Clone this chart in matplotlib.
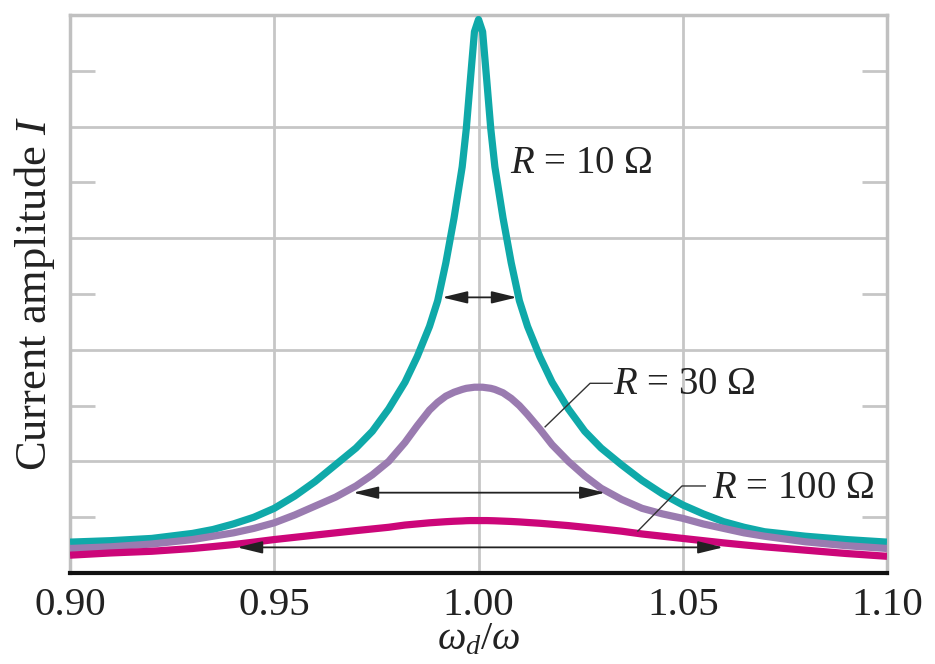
import matplotlib
matplotlib.use("Agg")
import matplotlib.pyplot as plt
from matplotlib.ticker import MultipleLocator

plt.rcParams['font.family'] = ['Liberation Serif', 'DejaVu Serif']
plt.rcParams['mathtext.fontset'] = 'custom'
plt.rcParams['mathtext.rm'] = 'Liberation Serif'
plt.rcParams['mathtext.it'] = 'Liberation Serif:italic'

# values
w_ratio = [0.900, 0.910, 0.920, 0.930, 0.935, 0.940, 0.945, 0.950, 0.955, 0.960,
           0.965, 0.970, 0.974, 0.978, 0.982, 0.985, 0.988, 0.990, 0.992, 0.994,
           0.996, 0.997, 0.998, 0.999, 1.000, 1.001, 1.002, 1.003, 1.004, 1.006,
           1.008, 1.010, 1.012, 1.015, 1.018, 1.022, 1.026, 1.030, 1.035, 1.040,
           1.045, 1.050, 1.055, 1.060, 1.065, 1.070, 1.080, 1.090, 1.100]
i_r10 = [0.277, 0.29, 0.31, 0.355, 0.39, 0.44, 0.50, 0.58, 0.69, 0.82,
         0.97, 1.12, 1.27, 1.47, 1.71, 1.94, 2.21, 2.44, 2.78, 3.18,
         3.64, 3.98, 4.42, 4.85, 4.96, 4.85, 4.42, 3.98, 3.64, 3.18,
         2.78, 2.44, 2.21, 1.94, 1.71, 1.47, 1.27, 1.12, 0.97, 0.83,
         0.71, 0.61, 0.53, 0.46, 0.41, 0.37, 0.33, 0.30, 0.277]
i_r30 = [0.22, 0.235, 0.26, 0.30, 0.33, 0.36, 0.40, 0.45, 0.52, 0.60,
         0.68, 0.78, 0.88, 1.00, 1.17, 1.32, 1.46, 1.53, 1.585, 1.62,
         1.645, 1.655, 1.66, 1.665, 1.665, 1.665, 1.66, 1.655, 1.645, 1.615,
         1.565, 1.50, 1.42, 1.29, 1.15, 1.00, 0.87, 0.76, 0.66, 0.58,
         0.53, 0.49, 0.44, 0.40, 0.36, 0.33, 0.28, 0.245, 0.22]
i_r100 = [0.16, 0.18, 0.195, 0.22, 0.237, 0.255, 0.277, 0.30, 0.32, 0.34,
          0.36, 0.38, 0.395, 0.41, 0.43, 0.44, 0.45, 0.455, 0.46, 0.464,
          0.467, 0.469, 0.47, 0.47, 0.47, 0.47, 0.47, 0.469, 0.468, 0.465,
          0.462, 0.458, 0.453, 0.446, 0.437, 0.425, 0.41, 0.395, 0.375, 0.35,
          0.33, 0.31, 0.29, 0.27, 0.252, 0.235, 0.205, 0.175, 0.15]

colors = ['#0fa9a9', '#9a7bb0', '#cc0679']
labels = ['$R$ = 10 Ω', '$R$ = 30 Ω', '$R$ = 100 Ω']

# half-maximum width arrows
arrow_y = [2.47, 0.72, 0.23]
arrow_left = [0.9911, 0.9693, 0.9409]
arrow_right = [1.0094, 1.031, 1.0599]

# label positions and leader lines
label_x = [1.0077, 1.0330, 1.0572]
label_y = [3.67, 1.685, 0.76]
leader30_x = [1.0163, 1.0273, 1.0327]
leader30_y = [1.31, 1.70, 1.70]
leader100_x = [1.0390, 1.0498, 1.0555]
leader100_y = [0.376, 0.78, 0.78]

xticks = [0.90, 0.95, 1.00, 1.05, 1.10]

fig = plt.figure(figsize=(9.35, 6.64), dpi=100)
ax = fig.add_axes([0.0749, 0.137, 0.8738, 0.8404])

for ys, c in zip([i_r10, i_r30, i_r100], colors):
    ax.plot(w_ratio, ys, color=c, lw=5.2, solid_capstyle='butt',
            solid_joinstyle='round', zorder=3)

for y, x0, x1 in zip(arrow_y, arrow_left, arrow_right):
    ax.annotate('', xy=(x0, y), xytext=(x1, y),
                arrowprops=dict(arrowstyle='<|-|>,head_length=0.7,head_width=0.17',
                                color='#222222', lw=1.3,
                                mutation_scale=22, shrinkA=0, shrinkB=0),
                zorder=4)

ax.plot(leader30_x, leader30_y, color='#333333', lw=1.0, zorder=4)
ax.plot(leader100_x, leader100_y, color='#333333', lw=1.0, zorder=4)

for x, y, s in zip(label_x, label_y, labels):
    ax.text(x, y, s, fontsize=28, ha='left', va='center', color='#222222', zorder=5)

ax.set_xlim(0.9, 1.1)
ax.set_ylim(0, 5)
ax.set_xticks(xticks)
ax.set_xticklabels(['%.2f' % t for t in xticks])
ax.yaxis.set_major_locator(MultipleLocator(1))
ax.yaxis.set_minor_locator(MultipleLocator(0.5))
ax.set_yticklabels([])

ax.grid(True, which='major', color='#c6c6c6', lw=2)
ax.set_axisbelow(True)
ax.tick_params(axis='x', length=0, pad=10, labelsize=29.5, colors='#222222')
ax.tick_params(axis='y', which='major', length=0)
ax.tick_params(axis='y', which='minor', direction='in', length=18, width=2,
               color='#c6c6c6', left=True, right=True)

for side in ['top', 'left', 'right']:
    ax.spines[side].set_color('#c0c0c0')
    ax.spines[side].set_linewidth(2.5)
ax.spines['bottom'].set_color('#111111')
ax.spines['bottom'].set_linewidth(3)

ax.set_xlabel('$\\omega_d/\\omega$', fontsize=29, labelpad=-2, color='#222222')
ax.set_ylabel('Current amplitude $I$', fontsize=32, labelpad=6, color='#222222')

fig.savefig('out.png', dpi=100)
